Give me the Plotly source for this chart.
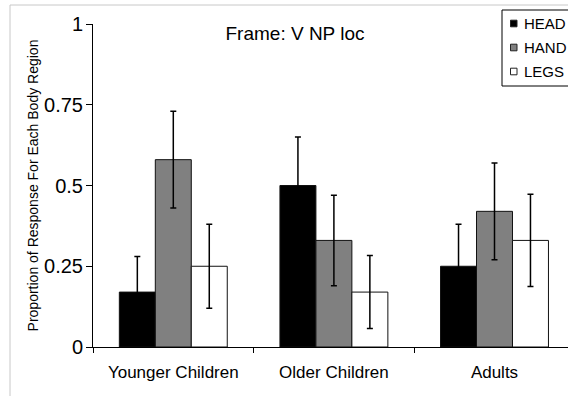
import plotly.graph_objects as go

categories = ["Younger Children", "Older Children", "Adults"]
series_names = ["HEAD", "HAND", "LEGS"]
head_vals = [0.17, 0.50, 0.25]
hand_vals = [0.58, 0.33, 0.42]
legs_vals = [0.25, 0.17, 0.33]
head_err = [0.11, 0.15, 0.13]
hand_err = [0.15, 0.14, 0.15]
legs_err = [0.13, 0.113, 0.143]
colors = ["#000000", "#808080", "#ffffff"]
y_ticks = [0, 0.25, 0.5, 0.75, 1]
y_ticktext = ["0", "0.25", "0.5", "0.75", "1"]

W, H = 568, 396
L, R, T, B = 93, 0, 24, 49
PW, PH = W - L - R, H - T - B
cat_px = 160.6

def px(x):
    return (x - L) / PW

def py(y):
    return (H - B - y) / PH

FONT = "Liberation Sans, Arial, sans-serif"

fig = go.Figure()
for name, vals, errs, col in zip(series_names, [head_vals, hand_vals, legs_vals],
                                 [head_err, hand_err, legs_err], colors):
    fig.add_trace(go.Bar(
        x=categories, y=vals, name=name,
        marker=dict(color=col, line=dict(color="#111111", width=1)),
        error_y=dict(type="data", array=errs, visible=True, color="#000000",
                     thickness=1.5, width=3),
        showlegend=False,
    ))

fig.update_layout(
    width=W, height=H,
    margin=dict(l=L, r=R, t=T, b=B, pad=0),
    paper_bgcolor="white", plot_bgcolor="white",
    barmode="group", bargap=0.328, bargroupgap=0,
    font=dict(family=FONT, color="black"),
    title=dict(text="Frame: V NP loc", x=px(295), xref="paper", xanchor="center",
               y=1 - 33 / H, yref="container", yanchor="middle",
               font=dict(size=19, family=FONT, color="black")),
)

fig.update_xaxes(
    type="category", range=[-0.5, -0.5 + PW / cat_px],
    showline=True, linecolor="black", linewidth=1,
    ticks="outside", tickson="boundaries", ticklen=5, tickcolor="black",
    showgrid=False, zeroline=False, ticklabelstandoff=10,
    tickfont=dict(size=17, family=FONT, color="black"),
)
fig.update_yaxes(
    range=[0, 1], tickvals=y_ticks, ticktext=y_ticktext,
    showline=True, linecolor="black", linewidth=1,
    ticks="outside", ticklen=6, tickcolor="black",
    showgrid=False, zeroline=False, ticklabelstandoff=-1,
    tickfont=dict(size=20, family=FONT, color="black"),
    title=dict(text="Proportion of Response For Each Body Region",
               font=dict(size=14, family=FONT, color="black"), standoff=2),
)

shapes = []
# outer light-gray frame
shapes.append(dict(type="rect", xref="paper", yref="paper",
                   x0=px(10), x1=px(W + 20), y0=py(H + 20), y1=py(5),
                   line=dict(color="#c8c8c8", width=1), fillcolor="rgba(0,0,0,0)",
                   layer="below"))
# legend box
shapes.append(dict(type="rect", xref="paper", yref="paper",
                   x0=px(502), x1=px(W + 5), y0=py(86), y1=py(10),
                   line=dict(color="black", width=1), fillcolor="white"))
annotations = []
legend_y = [23.5, 47.5, 71.5]
for name, col, ly in zip(series_names, colors, legend_y):
    shapes.append(dict(type="rect", xref="paper", yref="paper",
                       x0=px(510.5), x1=px(517), y0=py(ly + 3.3), y1=py(ly - 3.3),
                       line=dict(color="#222222", width=1), fillcolor=col))
    annotations.append(dict(text=name, xref="paper", yref="paper",
                            x=px(522), y=py(ly), xanchor="left", yanchor="middle",
                            showarrow=False,
                            font=dict(size=15, family=FONT, color="black")))

fig.update_layout(shapes=shapes, annotations=annotations)
fig.write_html("out.html")
